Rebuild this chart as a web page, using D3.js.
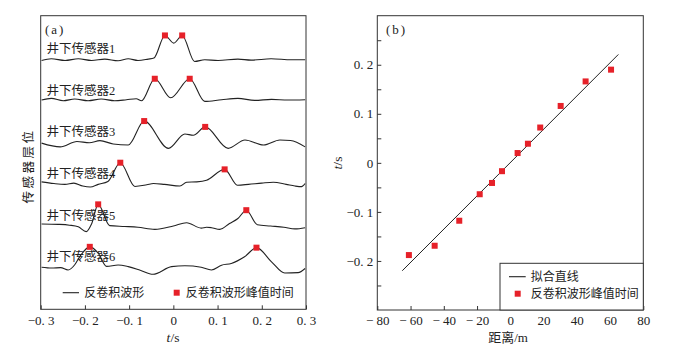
<!DOCTYPE html>
<html>
<head>
<meta charset="utf-8">
<script src="https://cdn.jsdelivr.net/npm/d3@7"></script>
<style>
body { margin: 0; background: #fff; }
svg text { font-family: "Liberation Serif", "Noto Sans CJK SC", serif; fill: #222; }
</style>
</head>
<body>
<svg id="chart" width="673" height="351"></svg>
<script>
// (a) deconvolved waveforms, [t (s), amplitude in trace spacings]
const trace1 = [[-0.298,-0.024],[-0.276,0.016],[-0.245,-0.024],[-0.215,0.016],[-0.185,-0.024],[-0.155,0.008],
  [-0.125,-0.032],[-0.102,0.016],[-0.080,-0.024],[-0.057,0.008],[-0.044,0.032],[-0.019,0.576],[0.001,0.392],
  [0.020,0.576],[0.048,-0.048],[0.071,-0.008],[0.101,-0.024],[0.146,0.008],[0.176,-0.016],[0.221,0.016],
  [0.267,-0.008],[0.298,-0.008]];
const trace2 = [[-0.298,0.024],[-0.276,0.064],[-0.249,0.008],[-0.223,0.048],[-0.193,0.008],[-0.163,0.048],
  [-0.133,0.008],[-0.106,0.032],[-0.084,0.056],[-0.072,0.008],[-0.042,0.536],[-0.006,0.080],[0.037,0.536],
  [0.071,-0.008],[0.109,0.032],[0.146,0.064],[0.184,0.016],[0.222,0.040],[0.259,0.024],[0.298,0.032]];
const trace3 = [[-0.298,-0.010],[-0.256,-0.100],[-0.218,0.030],[-0.190,0.000],[-0.166,0.050],[-0.136,-0.030],
  [-0.102,-0.055],[-0.066,0.520],[-0.011,-0.135],[0.026,0.210],[0.045,0.180],[0.072,0.380],[0.124,-0.135],
  [0.162,0.065],[0.204,-0.055],[0.241,0.065],[0.265,0.055],[0.298,-0.100]];
const trace4 = [[-0.298,0.060],[-0.270,0.020],[-0.245,0.000],[-0.225,0.030],[-0.205,-0.040],[-0.188,-0.065],
  [-0.170,0.000],[-0.148,0.070],[-0.120,0.520],[-0.087,-0.050],[-0.060,-0.010],[-0.045,0.020],[-0.020,0.000],
  [0.015,-0.040],[0.030,0.050],[0.053,0.060],[0.075,0.100],[0.116,0.360],[0.145,-0.020],[0.170,0.000],
  [0.200,0.030],[0.226,0.050],[0.255,0.000],[0.275,-0.040],[0.290,-0.055],[0.298,0.020]];
const trace5 = [[-0.298,0.050],[-0.260,0.040],[-0.235,0.020],[-0.215,-0.020],[-0.197,-0.135],[-0.185,0.050],
  [-0.170,0.520],[-0.144,0.010],[-0.110,-0.010],[-0.080,-0.030],[-0.042,-0.080],[0.000,0.000],[0.030,0.080],
  [0.063,-0.050],[0.075,-0.030],[0.086,-0.040],[0.105,-0.080],[0.127,0.060],[0.146,0.180],[0.165,0.380],
  [0.190,0.030],[0.220,0.000],[0.250,-0.030],[0.275,-0.070],[0.298,-0.040]];
const trace6 = [[-0.298,0.010],[-0.275,-0.010],[-0.255,0.000],[-0.238,-0.056],[-0.223,0.070],[-0.212,0.260],
  [-0.189,0.500],[-0.170,0.350],[-0.151,0.030],[-0.125,0.065],[-0.102,0.025],[-0.075,-0.060],[-0.046,-0.160],
  [-0.004,0.025],[0.026,0.045],[0.063,0.010],[0.086,-0.056],[0.109,0.060],[0.131,0.100],[0.161,0.260],
  [0.188,0.480],[0.222,0.140],[0.252,-0.130],[0.282,-0.120],[0.298,-0.020]];
const traces = [trace1, trace2, trace3, trace4, trace5, trace6];

// peak picks on each trace, [t, amplitude]
const peaks = [
  [[-0.019,0.576],[0.020,0.576]],
  [[-0.042,0.536],[0.037,0.536]],
  [[-0.066,0.520],[0.072,0.380]],
  [[-0.120,0.520],[0.116,0.360]],
  [[-0.170,0.520],[0.165,0.380]],
  [[-0.189,0.500],[0.188,0.480]]
];
const traceNames = ["井下传感器1","井下传感器2","井下传感器3","井下传感器4","井下传感器5","井下传感器6"];

// (b) peak time vs distance
const distance = [-61, -45.5, -30.7, -18.4, -11, -5, 4.4, 10.6, 18, 30.3, 45.3, 60.6];
const peakTime = [-0.188, -0.169, -0.118, -0.064, -0.041, -0.017, 0.020, 0.039, 0.072, 0.116, 0.166, 0.190];
const fitX = [-65, 65];
const fitT = [-0.22, 0.221];

const ticksA = [-0.3, -0.2, -0.1, 0, 0.1, 0.2, 0.3];
const ticksBx = [-80, -60, -40, -20, 0, 20, 40, 60, 80];
const ticksBy = [-0.25, -0.2, -0.15, -0.1, -0.05, 0, 0.05, 0.1, 0.15, 0.2, 0.25];

const red = "#e62129";
const svg = d3.select("#chart");

function fmt(v) {
    if (Math.abs(v) < 1e-9) return "0";
    return d3.format(".1f")(v).replace("-", "− ").replace(".", ". ");
}

// ---------- panel (a)
const boxA = {left: 40.7, right: 306, top: 15.7, bottom: 309.3};
const xA = d3.scaleLinear().domain([-0.3, 0.3]).range([boxA.left, boxA.right]);
const yA = d3.scaleLinear().domain([-0.05, 7.0]).range([boxA.top, boxA.bottom]);

const gA = svg.append("g");
const axA = gA.append("g")
    .attr("transform", "translate(0," + boxA.bottom + ")")
    .call(d3.axisBottom(xA).tickValues(ticksA).tickSizeInner(-4).tickSizeOuter(0).tickPadding(6).tickFormat(fmt));
axA.select(".domain").remove();
axA.selectAll("line").attr("stroke", "#333");
axA.selectAll("text").attr("font-size", "13px").attr("fill", "#222")
    .style("font-family", '"Liberation Serif", serif');

traces.forEach((tr, i) => {
    const k = i + 1;
    gA.append("path")
        .datum(tr)
        .attr("fill", "none")
        .attr("stroke", "#222")
        .attr("stroke-width", 1.1)
        .attr("d", d3.line()
            .x(d => xA(d[0]))
            .y(d => yA(k - d[1]))
            .curve(d3.curveMonotoneX));
    gA.append("text")
        .attr("x", 46.5)
        .attr("y", yA(k - 0.25))
        .attr("dominant-baseline", "central")
        .attr("font-size", "12.5px")
        .attr("fill", "#333")
        .text(traceNames[i]);
    gA.selectAll(null)
        .data(peaks[i])
        .enter().append("rect")
        .attr("x", d => xA(d[0]) - 3)
        .attr("y", d => yA(k - d[1]) - 3)
        .attr("width", 6)
        .attr("height", 6)
        .attr("fill", red);
});

gA.append("rect")
    .attr("x", boxA.left).attr("y", boxA.top)
    .attr("width", boxA.right - boxA.left).attr("height", boxA.bottom - boxA.top)
    .attr("fill", "none").attr("stroke", "#333").attr("stroke-width", 1);

gA.append("text").attr("x", 45).attr("y", 29.5).attr("dominant-baseline", "central")
    .attr("font-size", "13px").attr("letter-spacing", "2px").text("(a)");

// legend (a)
gA.append("line").attr("x1", 62.7).attr("x2", 79).attr("y1", 292.7).attr("y2", 292.7)
    .attr("stroke", "#222").attr("stroke-width", 1.1);
gA.append("text").attr("x", 84.3).attr("y", 292.7).attr("dominant-baseline", "central")
    .attr("font-size", "12px").text("反卷积波形");
gA.append("rect").attr("x", 176.7 - 3).attr("y", 292.7 - 3).attr("width", 6).attr("height", 6).attr("fill", red);
gA.append("text").attr("x", 185.7).attr("y", 292.7).attr("dominant-baseline", "central")
    .attr("font-size", "12px").text("反卷积波形峰值时间");

gA.append("text")
    .attr("transform", "translate(28.5,166) rotate(-90)")
    .attr("text-anchor", "middle").attr("dominant-baseline", "central")
    .attr("font-size", "12.5px").attr("letter-spacing", "2.5px").attr("fill", "#555")
    .text("传感器层位");

const tA = gA.append("text").attr("x", 173).attr("y", 337).attr("text-anchor", "middle")
    .attr("dominant-baseline", "central").attr("font-size", "13.5px");
tA.append("tspan").attr("font-style", "italic").text("t");
tA.append("tspan").text("/s");

// ---------- panel (b)
const boxB = {left: 377.3, right: 643.3, top: 15.7, bottom: 310};
const xB = d3.scaleLinear().domain([-80, 80]).range([boxB.left, boxB.right]);
const yB = d3.scaleLinear().domain([-0.3, 0.3]).range([boxB.bottom, boxB.top]);

const gB = svg.append("g");
const axBx = gB.append("g")
    .attr("transform", "translate(0," + boxB.bottom + ")")
    .call(d3.axisBottom(xB).tickValues(ticksBx).tickSizeInner(-4).tickSizeOuter(0).tickPadding(6)
        .tickFormat(v => v < 0 ? "− " + Math.abs(v) : String(v)));
const axBy = gB.append("g")
    .attr("transform", "translate(" + boxB.left + ",0)")
    .call(d3.axisLeft(yB).tickValues(ticksBy).tickSizeInner(-4).tickSizeOuter(0).tickPadding(4)
        .tickFormat(v => Math.abs(Math.round(v * 100)) % 10 === 0 ? fmt(v) : ""));
[axBx, axBy].forEach(ax => {
    ax.select(".domain").remove();
    ax.selectAll("line").attr("stroke", "#333");
    ax.selectAll("text").attr("font-size", "13px").attr("fill", "#222")
        .style("font-family", '"Liberation Serif", serif');
});

gB.append("path")
    .datum(d3.zip(fitX, fitT))
    .attr("fill", "none").attr("stroke", "#222").attr("stroke-width", 1)
    .attr("d", d3.line().x(d => xB(d[0])).y(d => yB(d[1])));

gB.selectAll(null)
    .data(d3.zip(distance, peakTime))
    .enter().append("rect")
    .attr("x", d => xB(d[0]) - 3)
    .attr("y", d => yB(d[1]) - 3)
    .attr("width", 6).attr("height", 6)
    .attr("fill", red);

gB.append("rect")
    .attr("x", boxB.left).attr("y", boxB.top)
    .attr("width", boxB.right - boxB.left).attr("height", boxB.bottom - boxB.top)
    .attr("fill", "none").attr("stroke", "#333").attr("stroke-width", 1);

gB.append("text").attr("x", 386).attr("y", 29.5).attr("dominant-baseline", "central")
    .attr("font-size", "13px").attr("letter-spacing", "2px").text("(b)");

// legend (b)
gB.append("rect").attr("x", 500).attr("y", 263.3).attr("width", boxB.right - 500).attr("height", boxB.bottom - 263.3)
    .attr("fill", "#fff").attr("stroke", "#333").attr("stroke-width", 1);
gB.append("line").attr("x1", 509).attr("x2", 525.7).attr("y1", 276.7).attr("y2", 276.7)
    .attr("stroke", "#222").attr("stroke-width", 1.1);
gB.append("text").attr("x", 530.7).attr("y", 276.7).attr("dominant-baseline", "central")
    .attr("font-size", "12px").text("拟合直线");
gB.append("rect").attr("x", 517.7 - 3).attr("y", 293.7 - 3).attr("width", 6).attr("height", 6).attr("fill", red);
gB.append("text").attr("x", 530.7).attr("y", 293.7).attr("dominant-baseline", "central")
    .attr("font-size", "12px").text("反卷积波形峰值时间");

const tB = gB.append("text").attr("transform", "translate(337,163) rotate(-90)")
    .attr("text-anchor", "middle").attr("dominant-baseline", "central").attr("font-size", "13.5px");
tB.append("tspan").attr("font-style", "italic").text("t");
tB.append("tspan").text("/s");

gB.append("text").attr("x", 508).attr("y", 337).attr("text-anchor", "middle")
    .attr("dominant-baseline", "central").attr("font-size", "13px").text("距离/m");
</script>
</body>
</html>
